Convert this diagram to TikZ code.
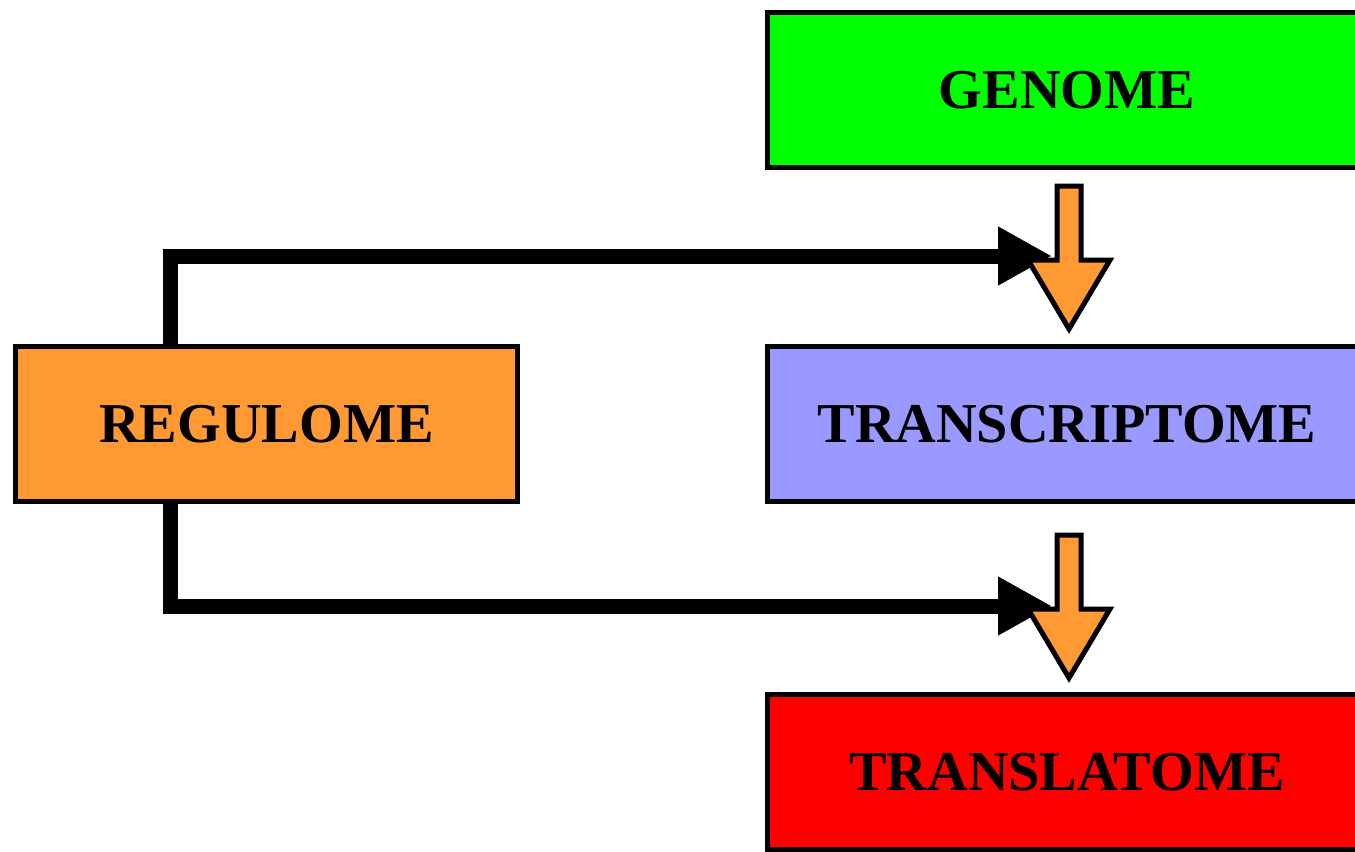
\documentclass[tikz,border=0pt]{standalone}
\usepackage{fontspec}
\setmainfont{Liberation Serif}
\usetikzlibrary{arrows.meta,positioning}
\definecolor{leaf}{RGB}{0,255,0}
\definecolor{lilac}{RGB}{153,153,255}
\definecolor{scarlet}{RGB}{255,0,0}
\definecolor{tangerine}{RGB}{255,153,51}
\tikzset{
  box/.style={draw=black,fill=#1,line width=0.1cm,minimum width=12cm,
    minimum height=3.1cm,inner sep=0pt,align=center,
    font=\fontsize{32}{38}\selectfont\bfseries},
  box/.default=leaf,
  flow/.style={-{Triangle[length=1.08cm,width=1.1cm]},line width=0.3cm,draw=black},
  % block arrow pointing down, origin at its top
  pics/down/.style={code={
    \filldraw[fill=#1,draw=black,line width=0.1cm,line join=miter]
      (-0.24,0) -- (0.24,0) -- (0.24,-1.48) -- (0.82,-1.48) -- (0,-2.86)
      -- (-0.82,-1.48) -- (-0.24,-1.48) -- cycle;
  }},
  pics/down/.default=tangerine,
}
\begin{document}
\begin{tikzpicture}
  \useasboundingbox (0,0) rectangle (27.1,-17.02);
  \clip (0,0) rectangle (27.1,-17.02);
  \node[box=leaf] (gen) at (21.34,-1.8) {GENOME};
  \node[box=lilac,below=3.48cm of gen] (trs) {TRANSCRIPTOME};
  \node[box=scarlet,below=3.76cm of trs] (trl) {TRANSLATOME};
  \node[box=tangerine,minimum width=10.04cm] (reg) at (5.33,-8.48) {REGULOME};
  \coordinate (tipA) at (21.04,-5.12);
  \coordinate (tipB) at (21.04,-12.12);
  \draw[flow] ([xshift=3.14cm]reg.north west) |- (tipA);
  \draw[flow] ([xshift=3.14cm]reg.south west) |- (tipB);
  \pic at (21.38,-3.72) {down};
  \pic at (21.38,-10.7) {down};
\end{tikzpicture}
\end{document}
